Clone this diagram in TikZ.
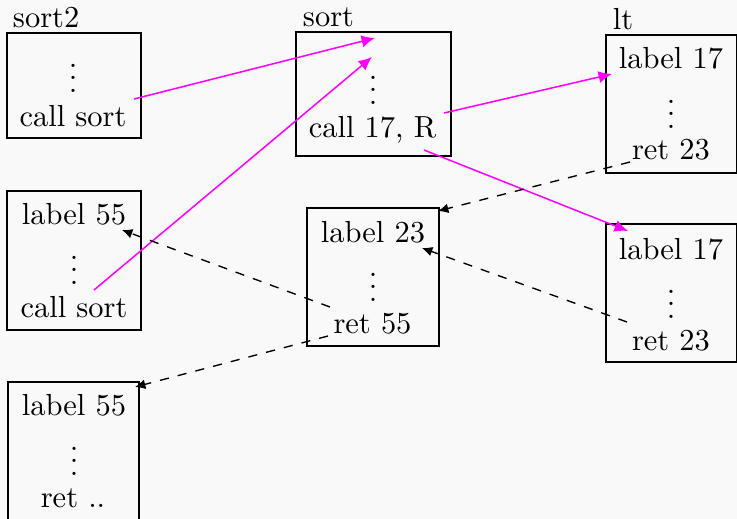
\documentclass[tikz,border=0pt]{standalone}
\usetikzlibrary{arrows.meta}
\definecolor{bg}{RGB}{249,249,249}
\definecolor{callcol}{RGB}{255,0,255}
\newcommand{\uu}{0.328pt}
\begin{document}
\begin{tikzpicture}[x=0.328pt,y=-0.328pt,
  box/.style={draw,line width=0.4pt,inner sep=0pt,outer sep=0pt},
  txt/.style={anchor=base,inner sep=0pt,outer sep=0pt},
  dotsnode/.style={anchor=base,inner sep=0pt,outer sep=0pt,text height=9.3pt,text depth=0pt},
  title/.style={anchor=base west,inner sep=0pt,outer sep=0pt},
  callarrow/.style={draw=callcol,line width=0.5pt,-{Latex[length=4.4pt,width=4pt]}},
  retarrow/.style={draw=black,dashed,line width=0.45pt,-{Latex[length=3.4pt,width=3.2pt]}}]
\fill[bg] (0,0) rectangle (737,519);
\useasboundingbox (0,0) rectangle (737,519);
\begin{scope}
\clip (0,0) rectangle (737,519);
% boxes
\node[box,minimum width=134*\uu,minimum height=105*\uu] (bsorttwo) at (74,85.5) {};
\node[box,minimum width=155*\uu,minimum height=124*\uu] (bsort) at (373.5,94) {};
\node[box,minimum width=130.3*\uu,minimum height=138*\uu] (blt) at (671.15,104) {};
\node[box,minimum width=130.3*\uu,minimum height=138*\uu] (bltb) at (671.15,293) {};
\node[box,minimum width=132*\uu,minimum height=138*\uu] (bmid) at (373,277) {};
\node[box,minimum width=134*\uu,minimum height=139*\uu] (bleft) at (74,260.5) {};
\node[box,minimum width=131*\uu,minimum height=143*\uu] (bbot) at (73.5,453.5) {};
\end{scope}
% titles
\node[title] (tsorttwo) at (13,27) {sort2};
\node[title] (tsort) at (303,26) {sort};
\node[title] (tlt) at (613,29) {lt};
% sort2 contents
\node[dotsnode] (dA) at (73,92) {$\vdots$};
\node[txt] (cA) at (73,126) {call sort};
% sort contents
\node[dotsnode] (dB) at (373,104) {$\vdots$};
\node[txt] (cB) at (372.5,137) {call 17, R};
% lt contents
\node[txt] (lC) at (671,68) {label 17};
\node[dotsnode] (dC) at (671,128) {$\vdots$};
\node[txt] (rC) at (671,159) {ret 23};
% lt second contents
\node[txt] (lD) at (671,259) {label 17};
\node[dotsnode] (dD) at (671,318) {$\vdots$};
\node[txt] (rD) at (671,350) {ret 23};
% middle box
\node[txt] (lE) at (373,242) {label 23};
\node[dotsnode] (dE) at (373,301) {$\vdots$};
\node[txt] (rE) at (372.5,333) {ret 55};
% left box
\node[txt] (lF) at (74,224) {label 55};
\node[dotsnode] (dF) at (74,284) {$\vdots$};
\node[txt] (cF) at (74,317) {call sort};
% bottom box
\node[txt] (lG) at (74,415) {label 55};
\node[dotsnode] (dG) at (74,475) {$\vdots$};
\node[txt] (rG) at (73,507) {ret ..};
% connector ends
\coordinate (a1s) at (134,99);  \coordinate (a1e) at (375,38);
\coordinate (a2s) at (94,290);  \coordinate (a2e) at (372,57);
\coordinate (a3s) at (444,113); \coordinate (a3e) at (612,74);
\coordinate (a4s) at (424,150); \coordinate (a4e) at (628,231);
\coordinate (a5s) at (630,162); \coordinate (a5e) at (438,211);
\coordinate (a6s) at (627,322); \coordinate (a6e) at (422,248);
\coordinate (a7s) at (330,307); \coordinate (a7e) at (122,230);
\coordinate (a8s) at (328,336); \coordinate (a8e) at (135,387);
% calls
\draw[callarrow] (a1s) -- (a1e);
\draw[callarrow] (a2s) -- (a2e);
\draw[callarrow] (a3s) -- (a3e);
\draw[callarrow] (a4s) -- (a4e);
% returns
\draw[retarrow] (a5s) -- (a5e);
\draw[retarrow] (a6s) -- (a6e);
\draw[retarrow] (a7s) -- (a7e);
\draw[retarrow] (a8s) -- (a8e);
\end{tikzpicture}
\end{document}
